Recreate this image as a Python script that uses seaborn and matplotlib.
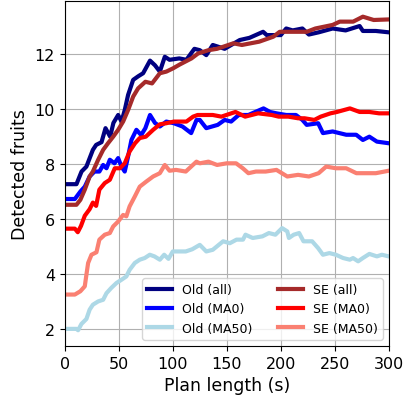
import numpy as np
import pandas as pd
import matplotlib
matplotlib.use("Agg")
import matplotlib.pyplot as plt
import seaborn as sns

# Mean detected fruits over plan length, per planner variant
old_all_t = [0, 10.8, 15.5, 20, 26, 29, 34, 37.7, 42, 45, 49.4, 52.5, 55.5, 58.6, 63.3, 68, 72.5, 78.9,
             83.5, 88, 92.6, 97, 106, 112.6, 120, 125, 131, 137, 148, 162, 171, 183.6, 187, 200, 205,
             211, 220, 226, 235, 248, 260, 273, 276, 288, 300]
old_all_v = [7.27, 7.27, 7.73, 7.91, 8.52, 8.7, 8.8, 9.31, 9.0, 9.5, 9.79, 9.55, 9.97, 10.52, 11.07, 11.2,
             11.31, 11.77, 11.6, 11.37, 11.91, 11.8, 11.85, 11.8, 12.2, 12.15, 11.97, 12.34, 12.2, 12.52,
             12.6, 12.82, 12.7, 12.7, 12.94, 12.87, 12.94, 12.72, 12.8, 12.94, 12.87, 13.03, 12.85, 12.85,
             12.8]

se_all_t = [0, 10.8, 14.4, 18.5, 23, 26, 30.9, 35.5, 40, 44.8, 49.4, 54, 58.6, 63.3, 67.9, 74.6, 80.8, 88,
            94, 100.3, 106.5, 117.3, 123.4, 133, 141, 156, 164, 180, 193, 199, 211, 224, 232, 248, 254.6,
            267, 276, 286, 300]
se_all_v = [6.52, 6.52, 6.7, 7.07, 7.55, 7.73, 8.16, 8.52, 8.76, 9.0, 9.25, 9.55, 9.97, 10.46, 10.76, 11.0,
            10.94, 11.31, 11.37, 11.49, 11.63, 11.85, 12.03, 12.15, 12.2, 12.4, 12.34, 12.46, 12.64, 12.82,
            12.82, 12.82, 12.94, 13.07, 13.19, 13.19, 13.37, 13.25, 13.27]

old_ma0_t = [0, 9.3, 14.4, 18.5, 23, 27.5, 32, 35.5, 38.6, 41.7, 46, 49.4, 52.5, 55.5, 58.6, 61.7, 66.3,
             70.7, 74.6, 78.9, 83.5, 88, 94, 101, 109, 117, 122, 125, 131, 141.6, 148, 154, 161, 170, 184,
             190, 196, 205, 214, 220, 224, 234.6, 239, 248, 260.6, 269.8, 276, 282, 289, 300]
old_ma0_v = [6.73, 6.73, 7.0, 7.18, 7.55, 7.73, 7.73, 7.97, 7.85, 8.16, 8.03, 8.22, 7.91, 7.73, 8.28, 8.88,
             9.25, 9.06, 9.31, 9.79, 9.5, 9.37, 9.55, 9.49, 9.37, 9.13, 9.61, 9.61, 9.31, 9.43, 9.61, 9.55,
             9.79, 9.79, 10.03, 9.9, 9.85, 9.79, 9.79, 9.61, 9.43, 9.49, 9.13, 9.19, 9.07, 9.07, 8.88, 9.0,
             8.82, 8.76]

se_ma0_t = [0, 9.3, 12, 15, 18.5, 23, 26, 29, 32, 37, 41.7, 46.3, 51, 55.5, 60, 65, 69.4, 75, 81.8, 88, 94,
            101, 112.6, 118.8, 123, 137, 145, 158, 167, 179, 191.7, 198, 207, 216, 222, 231, 237, 246,
            252, 264, 273, 282, 291, 300]
se_ma0_v = [5.65, 5.65, 5.52, 5.75, 6.12, 6.36, 6.6, 6.48, 7.07, 7.31, 7.43, 7.85, 7.85, 8.03, 8.46, 8.76,
            8.95, 9.0, 9.25, 9.45, 9.49, 9.55, 9.55, 9.73, 9.79, 9.79, 9.73, 9.9, 9.73, 9.85, 9.79, 9.73,
            9.73, 9.67, 9.67, 9.61, 9.73, 9.85, 9.9, 10.03, 9.9, 9.9, 9.85, 9.85]

old_ma50_t = [0, 10.8, 12.3, 15.4, 20, 23, 26, 30.9, 35.5, 38.6, 43, 47.8, 52.5, 57, 60, 64.8, 69.4, 74,
              78.7, 83, 88, 92, 96, 100, 112, 118, 125, 131, 137, 146.6, 152.8, 159, 165, 167.3, 174, 183,
              189, 195, 201.2, 206, 207.5, 212, 217, 221, 229, 234.6, 239, 245, 251, 257.7, 263.9, 266.9,
              271.6, 276, 282, 289, 293.6, 300]
old_ma50_v = [2.0, 2.0, 1.95, 2.18, 2.36, 2.7, 2.88, 3.0, 3.06, 3.3, 3.49, 3.67, 3.79, 3.91, 4.15, 4.4,
              4.52, 4.58, 4.7, 4.64, 4.52, 4.7, 4.55, 4.82, 4.82, 4.9, 5.06, 4.82, 4.88, 5.19, 5.12, 5.25,
              5.25, 5.43, 5.31, 5.37, 5.49, 5.43, 5.67, 5.55, 5.31, 5.43, 5.49, 5.19, 5.19, 4.94, 4.7, 4.76,
              4.7, 4.58, 4.52, 4.58, 4.46, 4.58, 4.73, 4.64, 4.7, 4.64]

se_ma50_t = [0, 9.3, 14.4, 18.5, 20, 21.6, 24.7, 29.3, 32, 37, 41.7, 44.8, 49.4, 54, 57, 60, 64.8, 69.4,
             75.6, 81.8, 88, 92.6, 97, 103, 112, 121.9, 125, 133, 141, 150, 158.6, 164.8, 170, 177, 186,
             196, 206, 216, 226, 235, 242, 251, 260.5, 270, 278.8, 288, 300]
se_ma50_v = [3.25, 3.25, 3.37, 3.55, 3.97, 4.4, 4.7, 4.79, 5.25, 5.43, 5.49, 5.73, 5.91, 6.15, 6.1, 6.46,
             6.82, 7.18, 7.37, 7.55, 7.67, 7.97, 7.76, 7.79, 7.73, 8.09, 8.03, 8.09, 7.97, 8.03, 8.03, 7.85,
             7.67, 7.73, 7.73, 7.79, 7.55, 7.61, 7.55, 7.67, 7.91, 7.85, 7.85, 7.67, 7.67, 7.67, 7.76]

series_names = ["Old (all)", "Old (MA0)", "Old (MA50)", "SE (all)", "SE (MA0)", "SE (MA50)"]
series_data = [(old_all_t, old_all_v), (old_ma0_t, old_ma0_v), (old_ma50_t, old_ma50_v),
               (se_all_t, se_all_v), (se_ma0_t, se_ma0_v), (se_ma50_t, se_ma50_v)]
colors = ["navy", "blue", "lightblue", "brown", "red", "salmon"]

frames = []
for name, (t, v) in zip(series_names, series_data):
    frames.append(pd.DataFrame({"t": t, "v": v, "series": name}))
df = pd.concat(frames, ignore_index=True)

fig = plt.figure(figsize=(4.05, 4.02), dpi=100)
ax = fig.add_axes([0.160, 0.137, 0.800, 0.858])

sns.lineplot(data=df, x="t", y="v", hue="series", hue_order=series_names,
             palette=dict(zip(series_names, colors)), linewidth=3, sort=False,
             estimator=None, ax=ax)

ax.set_xlim(0, 300)
ax.set_xticks([0, 50, 100, 150, 200, 250, 300])
ax.set_yticks([2, 4, 6, 8, 10, 12])
ax.grid(True, color="#b0b0b0", linewidth=0.8)
ax.set_axisbelow(True)
ax.tick_params(labelsize=11.5)
ax.set_xlabel("Plan length (s)", fontsize=12.5)
ax.set_ylabel("Detected fruits", fontsize=12.5)

handles, labels = ax.get_legend_handles_labels()
ax.legend(handles, labels, ncol=2, loc="lower right", fontsize=9,
          columnspacing=2.0, handlelength=2.0)

fig.savefig("out.png", dpi=100)
